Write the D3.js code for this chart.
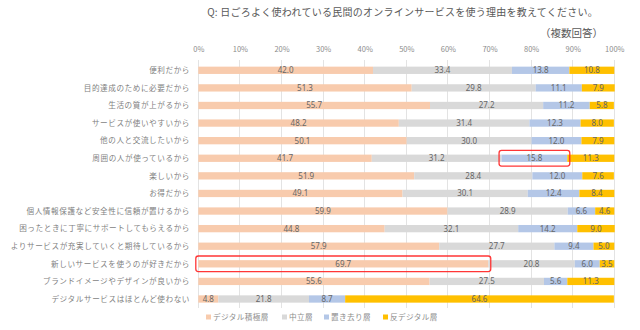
<!DOCTYPE html>
<html><head><meta charset="utf-8">
<script src="https://cdn.jsdelivr.net/npm/d3@7"></script>
<style>
html,body{margin:0;padding:0;background:#fff;}
svg{display:block;font-family:"Noto Sans CJK JP","Noto Sans",sans-serif;}
</style></head>
<body>
<svg id="c" width="640" height="330"></svg>
<script>
const categories = [
  "便利だから",
  "目的達成のために必要だから",
  "生活の質が上がるから",
  "サービスが使いやすいから",
  "他の人と交流したいから",
  "周囲の人が使っているから",
  "楽しいから",
  "お得だから",
  "個人情報保護など安全性に信頼が置けるから",
  "困ったときに丁寧にサポートしてもらえるから",
  "よりサービスが充実していくと期待しているから",
  "新しいサービスを使うのが好きだから",
  "ブランドイメージやデザインが良いから",
  "デジタルサービスはほとんど使わない"
];
const seriesNames = ["デジタル積極層", "中立層", "置き去り層", "反デジタル層"];
const active   = [42.0, 51.3, 55.7, 48.2, 50.1, 41.7, 51.9, 49.1, 59.9, 44.8, 57.9, 69.7, 55.6, 4.8];
const neutral  = [33.4, 29.8, 27.2, 31.4, 30.0, 31.2, 28.4, 30.1, 28.9, 32.1, 27.7, 20.8, 27.5, 21.8];
const leftBehind = [13.8, 11.1, 11.2, 12.3, 12.0, 15.8, 12.0, 12.4, 6.6, 14.2, 9.4, 6.0, 5.6, 8.7];
const antiDigital = [10.8, 7.9, 5.8, 8.0, 7.9, 11.3, 7.6, 8.4, 4.6, 9.0, 5.0, 3.5, 11.3, 64.6];
const tickValues = [0, 10, 20, 30, 40, 50, 60, 70, 80, 90, 100];
const colors = ["#F8CBAD", "#D9D9D9", "#B4C7E7", "#FFC000"];
// highlighted segments: [row index, series index]
const highlights = [[5, 2], [11, 0]];

const seriesData = [active, neutral, leftBehind, antiDigital];
const rows = categories.map((c, i) => {
  const o = {cat: c};
  seriesNames.forEach((s, j) => o[s] = seriesData[j][i]);
  return o;
});
const stack = d3.stack().keys(seriesNames)(rows);

const svg = d3.select("#c");
const x = d3.scaleLinear().domain([0, 100]).range([198.3, 614.3]);
const y = d3.scaleBand().domain(categories).range([61.5, 307.8]).paddingInner(0.585).paddingOuter(0.2925);

// title
svg.append("text").attr("x", 598).attr("y", 16).attr("text-anchor", "end")
  .attr("font-size", 10).attr("fill", "#595959").attr("letter-spacing", 0.25)
  .text("Q: 日ごろよく使われている民間のオンラインサービスを使う理由を教えてください。");
svg.append("text").attr("x", 603).attr("y", 37).attr("text-anchor", "end")
  .attr("font-size", 10.5).attr("fill", "#595959")
  .text("（複数回答）");

// gridlines
svg.append("g").selectAll("line").data(tickValues).join("line")
  .attr("x1", d => x(d)).attr("x2", d => x(d))
  .attr("y1", 60).attr("y2", 307.5)
  .attr("stroke", "#E3E3E3").attr("stroke-width", 1).attr("shape-rendering", "crispEdges");

// top axis labels
const axis = d3.axisTop(x).tickValues(tickValues).tickFormat(d => d + "%").tickSize(0).tickPadding(0);
const ag = svg.append("g").attr("transform", "translate(0,52)").call(axis);
ag.select(".domain").remove();
ag.selectAll("text").attr("font-size", 7.5).attr("fill", "#8C8C8C")
  .attr("font-family", "'Noto Sans CJK JP', sans-serif");

// category labels
svg.append("g").selectAll("text").data(categories).join("text")
  .attr("x", 190).attr("y", d => y(d) + y.bandwidth() / 2)
  .attr("dy", "0.36em").attr("text-anchor", "end")
  .attr("font-size", 7.6).attr("letter-spacing", 0.58).attr("fill", "#7F7F7F")
  .text(d => d);

// bars
const layers = svg.append("g").selectAll("g").data(stack).join("g")
  .attr("fill", (d, i) => colors[i]);
layers.selectAll("rect").data(d => d).join("rect")
  .attr("x", d => x(d[0])).attr("width", d => x(d[1]) - x(d[0]))
  .attr("y", d => y(d.data.cat)).attr("height", y.bandwidth());

// value labels
svg.append("g").selectAll("g").data(stack).join("g")
  .selectAll("text").data(d => d).join("text")
  .attr("x", d => (x(d[0]) + x(d[1])) / 2)
  .attr("y", d => y(d.data.cat) + y.bandwidth() / 2)
  .attr("dy", "0.36em").attr("text-anchor", "middle")
  .attr("font-size", 8).attr("fill", "#666666")
  .attr("font-family", "'Noto Sans', sans-serif")
  .text(d => (d[1] - d[0]).toFixed(1));

// highlight boxes
svg.append("g").selectAll("rect").data(highlights).join("rect")
  .attr("x", d => x(stack[d[1]][d[0]][0]) - 2.5)
  .attr("width", d => x(stack[d[1]][d[0]][1]) - x(stack[d[1]][d[0]][0]) + 5)
  .attr("y", d => y(categories[d[0]]) + y.bandwidth() / 2 - 7.8)
  .attr("height", 15.6)
  .attr("rx", 2.5).attr("fill", "none").attr("stroke", "#FF2020").attr("stroke-width", 1.3).attr("stroke-opacity", 0.9);

// legend
const legendX = [206, 282, 324, 383];
const lg = svg.append("g").selectAll("g").data(seriesNames).join("g")
  .attr("transform", (d, i) => `translate(${legendX[i]},317)`);
lg.append("rect").attr("x", 0).attr("y", -2.5).attr("width", 5).attr("height", 5)
  .attr("fill", (d, i) => colors[i]);
lg.append("text").attr("x", 7).attr("y", 0).attr("dy", "0.36em")
  .attr("font-size", 7.6).attr("letter-spacing", 0.4).attr("fill", "#8C8C8C")
  .text(d => d);
</script>
</body></html>
